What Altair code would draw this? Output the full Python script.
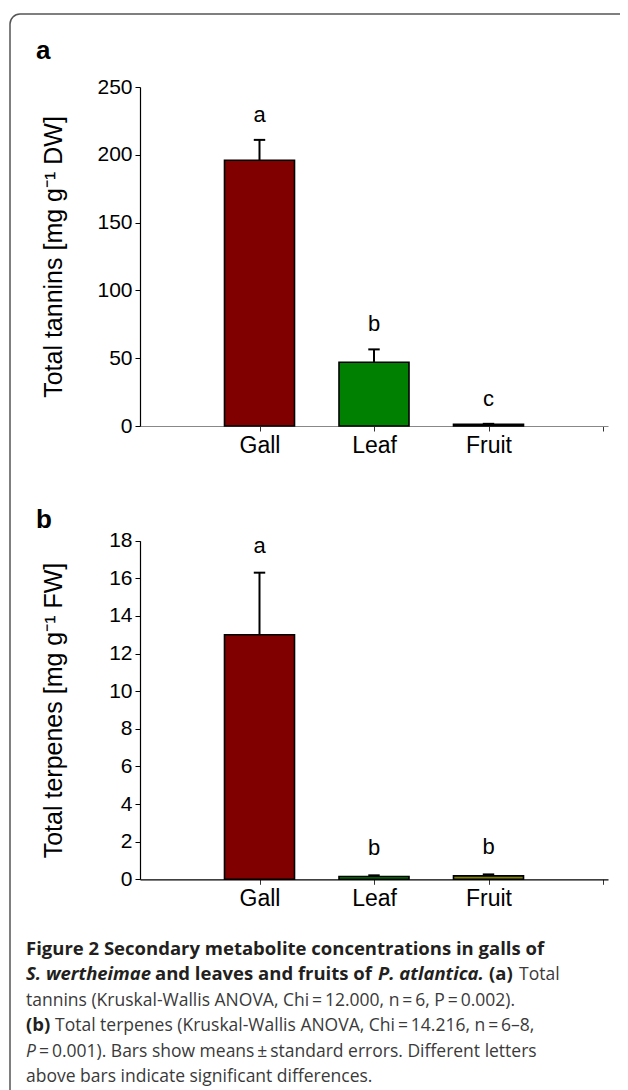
import altair as alt
import pandas as pd

# ---------------- data ----------------
categories = ["Gall", "Leaf", "Fruit"]
positions = [1, 2, 3]
bar_colors = ["#800000", "#008000", "#808000"]

tannin_mean = [196.0, 47.0, 1.2]
tannin_se = [15.0, 9.5, 0.4]
tannin_letters = ["a", "b", "c"]
tannin_ticks = [0, 50, 100, 150, 200, 250]

terpene_mean = [13.0, 0.15, 0.18]
terpene_se = [3.3, 0.06, 0.08]
terpene_letters = ["a", "b", "b"]
terpene_ticks = [0, 2, 4, 6, 8, 10, 12, 14, 16, 18]

# ---------------- layout ----------------
W, H = 612, 1082
XRANGE = [132, 600]
FONT = "Liberation Sans"
CAP_FONT = "Open Sans"

label_expr = " : ".join(
    [f"datum.value == {p} ? '{c}'" for p, c in zip(positions, categories)]
) + " : ''"


def panel(mean, se, letters, ticks, dmax, yrange, title, x_offset, x_domain_color, letter_dy):
    df = pd.DataFrame({
        "pos": positions,
        "cat": categories,
        "color": bar_colors,
        "mean": mean,
        "se": se,
        "letter": letters,
    })
    df["top"] = df["mean"] + df["se"]
    df["capL"] = df["pos"] - 0.05
    df["capR"] = df["pos"] + 0.05

    xs = alt.Scale(domain=[0, 4], range=XRANGE, nice=False, zero=False)
    ys = alt.Scale(domain=[0, dmax], range=yrange, nice=False, zero=True)
    xaxis = alt.Axis(
        orient="bottom", offset=x_offset, values=[1, 2, 3, 4], labelExpr=label_expr,
        title=None, grid=False, domainColor=x_domain_color, domainWidth=1.2,
        tickColor="#333", tickSize=5, tickWidth=1, labelFont=FONT, labelFontSize=23,
        labelColor="black", labelPadding=3,
    )
    yaxis = alt.Axis(
        orient="left", offset=-XRANGE[0], values=ticks, format="d", grid=False,
        domainColor="black", domainWidth=1.2, tickColor="black", tickSize=5, tickWidth=1,
        labelFont=FONT, labelFontSize=21, labelColor="black", labelPadding=3,
        title=title, titleFont=FONT, titleFontSize=25, titleFontWeight="normal",
        titleColor="black", titleX=-87, titleBaseline="middle", titleAngle=270,
    )
    base = alt.Chart(df)
    err = base.mark_rule(color="black", strokeWidth=2).encode(
        x=alt.X("pos:Q", scale=xs, axis=xaxis),
        y=alt.Y("mean:Q", scale=ys, axis=yaxis),
        y2="top:Q",
    )
    cap = base.mark_rule(color="black", strokeWidth=2).encode(
        x=alt.X("capL:Q", scale=xs), x2="capR:Q", y=alt.Y("top:Q", scale=ys)
    )
    bars = base.mark_bar(size=70, stroke="black", strokeWidth=1.6).encode(
        x=alt.X("pos:Q", scale=xs),
        y=alt.Y("mean:Q", scale=ys),
        color=alt.Color("color:N", scale=None),
    )
    txt = base.mark_text(font=FONT, fontSize=22, baseline="alphabetic", dy=letter_dy, color="black").encode(
        x=alt.X("pos:Q", scale=xs), y=alt.Y("top:Q", scale=ys), text="letter:N"
    )
    return alt.layer(err, cap, bars, txt)


panel_a = panel(tannin_mean, tannin_se, tannin_letters, tannin_ticks, 250, [418, 79],
                "Total tannins [mg g⁻¹ DW]", -(H - 418), "#888", -18)
panel_b = panel(terpene_mean, terpene_se, terpene_letters, terpene_ticks, 18, [871.3, 532.7],
                "Total terpenes [mg g⁻¹ FW]", -(H - 871.3), "black", -20)

one = pd.DataFrame({"k": [0]})
frame = alt.Chart(one).mark_rect(
    clip=True, fill="white", fillOpacity=0, stroke="#555", strokeWidth=1.5, cornerRadius=10
).encode(x=alt.value(2), x2=alt.value(640), y=alt.value(6), y2=alt.value(1110))

panel_labels = [
    ("a", 28, 51),
    ("b", 28, 520),
]
plabel_layers = [
    alt.Chart(one).mark_text(font=FONT, fontSize=26, fontWeight="bold", align="left",
                             baseline="alphabetic", color="black")
    .encode(x=alt.value(px), y=alt.value(py), text=alt.value(t))
    for t, px, py in panel_labels
]

TS = "\u2009"  # thin space used around = and ± in the caption
cap_lines = [
    ("Figure 2 Secondary metabolite concentrations in galls of", 18, 947, "bold", "normal"),
    ("S. wertheimae", 18, 972, "bold", "italic"),
    ("and leaves and fruits of", 147, 972, "bold", "normal"),
    ("P. atlantica.", 370, 972, "bold", "italic"),
    ("(a)", 481, 972, "bold", "normal"),
    ("Total", 511, 972, "normal", "normal"),
    (f"tannins (Kruskal-Wallis ANOVA, Chi{TS}={TS}12.000, n{TS}={TS}6, P{TS}={TS}0.002).", 18, 998, "normal", "normal"),
    ("(b)", 18, 1023, "bold", "normal"),
    (f"Total terpenes (Kruskal-Wallis ANOVA, Chi{TS}={TS}14.216, n{TS}={TS}6–8,", 47, 1023, "normal", "normal"),
    ("P", 18, 1049, "normal", "italic"),
    (f"{TS}={TS}0.001). Bars show means{TS}±{TS}standard errors. Different letters", 31, 1049, "normal", "normal"),
    ("above bars indicate significant differences.", 18, 1074, "normal", "normal"),
]
cap_layers = [
    alt.Chart(one).mark_text(font=CAP_FONT, fontSize=18.5 if w == "bold" else 17.5, fontWeight=w,
                             fontStyle=s, align="left", baseline="alphabetic",
                             color="#231f20" if w == "bold" else "#3a3a3a")
    .encode(x=alt.value(px), y=alt.value(py), text=alt.value(t))
    for t, px, py, w, s in cap_lines
]

chart = alt.layer(frame, panel_a, panel_b, *plabel_layers, *cap_layers).resolve_scale(
    x="independent", y="independent"
).properties(
    width=W, height=H, padding=0, autosize=alt.AutoSizeParams(type="none"),
    background="white",
).configure_view(stroke=None)

chart.save("out.html", embed_options={"renderer": "svg", "actions": False})
